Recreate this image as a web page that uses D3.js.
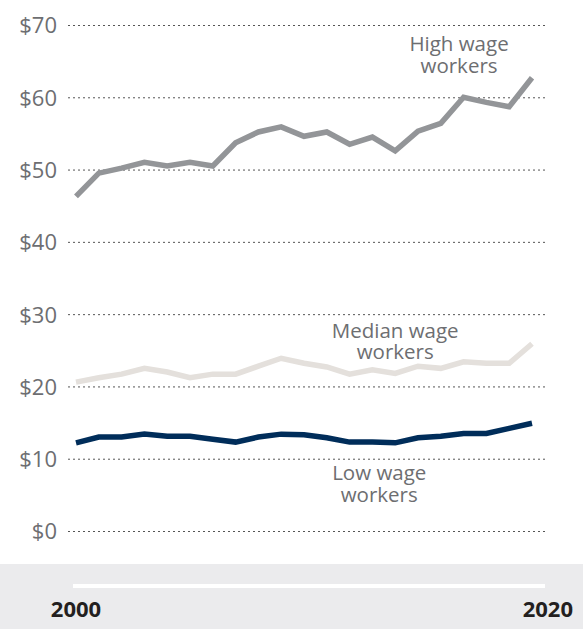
<!DOCTYPE html>
<html><head><meta charset="utf-8">
<script src="https://cdn.jsdelivr.net/npm/d3@7"></script>
<style>
body{margin:0;background:#fff;}
svg{display:block;font-family:"Open Sans",sans-serif;}
</style></head><body>
<div id="chart"></div>
<script>
const years = d3.range(2000, 2021);
const highWage = [46.3,49.5,50.2,51.0,50.5,51.0,50.5,53.7,55.2,55.9,54.6,55.2,53.5,54.5,52.6,55.3,56.4,60.0,59.3,58.7,62.7];
const medianWage = [20.6,21.2,21.7,22.5,22.0,21.2,21.7,21.7,22.8,23.9,23.2,22.7,21.7,22.3,21.8,22.8,22.5,23.4,23.2,23.2,25.9];
const lowWage = [12.2,13.0,13.0,13.4,13.1,13.1,12.7,12.3,13.0,13.4,13.3,12.9,12.3,12.3,12.2,12.9,13.1,13.5,13.5,14.2,14.9];
const yTicks = [0,10,20,30,40,50,60,70];
const xTickLabels = ["2000","2020"];
const seriesNames = [["High wage","workers"],["Median wage","workers"],["Low wage","workers"]];
const seriesColors = ["#939598","#e4e0dc","#002d5a"];
// label anchor: [year position, value of first-line baseline]
const labelAnchors = [[16.8,66.4],[14.0,26.7],[13.3,7.05]];

const W = 583, H = 629;
const svg = d3.select("#chart").append("svg").attr("width", W).attr("height", H);

const x = d3.scaleLinear().domain([2000, 2020]).range([76, 532]);
const y = d3.scaleLinear().domain([0, 70]).range([531, 25]);

// bottom band
svg.append("rect").attr("x",0).attr("y",564).attr("width",W).attr("height",H-564).attr("fill","#ebebed");
svg.append("rect").attr("x",73).attr("y",584).attr("width",472).attr("height",4).attr("fill","#ffffff");

// y axis with gridlines
const gridLeft = 68, gridRight = 545;
const yAxis = d3.axisLeft(y).tickValues(yTicks).tickFormat(d => "$" + d).tickSize(0);
const gy = svg.append("g").call(yAxis);
gy.select(".domain").remove();
gy.selectAll(".tick line").attr("x1",gridLeft).attr("x2",gridRight)
  .attr("stroke","#555").attr("stroke-width",1).attr("stroke-dasharray","2,3");
gy.selectAll(".tick text").attr("x",57).attr("text-anchor","end").attr("font-size","22px")
  .attr("fill","#6d6e71").attr("font-family","'Open Sans',sans-serif").attr("dy","0.36em");

// x axis labels
const gx = svg.append("g").attr("transform","translate(0,617)");
gx.selectAll("text").data(xTickLabels).join("text")
  .attr("x", (d,i) => i === 0 ? x(+d) : x(+d) + 41)
  .attr("text-anchor", (d,i) => i === 0 ? "middle" : "end")
  .attr("font-size","22px").attr("font-weight","700").attr("fill","#231f20")
  .attr("font-family","'Open Sans',sans-serif")
  .text(d => d);

// lines
const line = d3.line().x((d,i) => x(years[i])).y(d => y(d));
[highWage, medianWage, lowWage].forEach((s,k) => {
  svg.append("path").datum(s).attr("d", line).attr("fill","none")
    .attr("stroke", seriesColors[k]).attr("stroke-width",5.5).attr("stroke-linejoin","miter").attr("stroke-linecap","butt");
});

// series labels
seriesNames.forEach((lines,k) => {
  const cx = x(2000 + labelAnchors[k][0]);
  const by = y(labelAnchors[k][1]);
  lines.forEach((l,j) => {
    svg.append("text").attr("x", cx).attr("y", by + j*21.5)
      .attr("text-anchor","middle").attr("font-size","20.5px").attr("fill","#6d6e71")
      .attr("font-family","'Open Sans',sans-serif")
      .text(l);
  });
});
</script></body></html>
